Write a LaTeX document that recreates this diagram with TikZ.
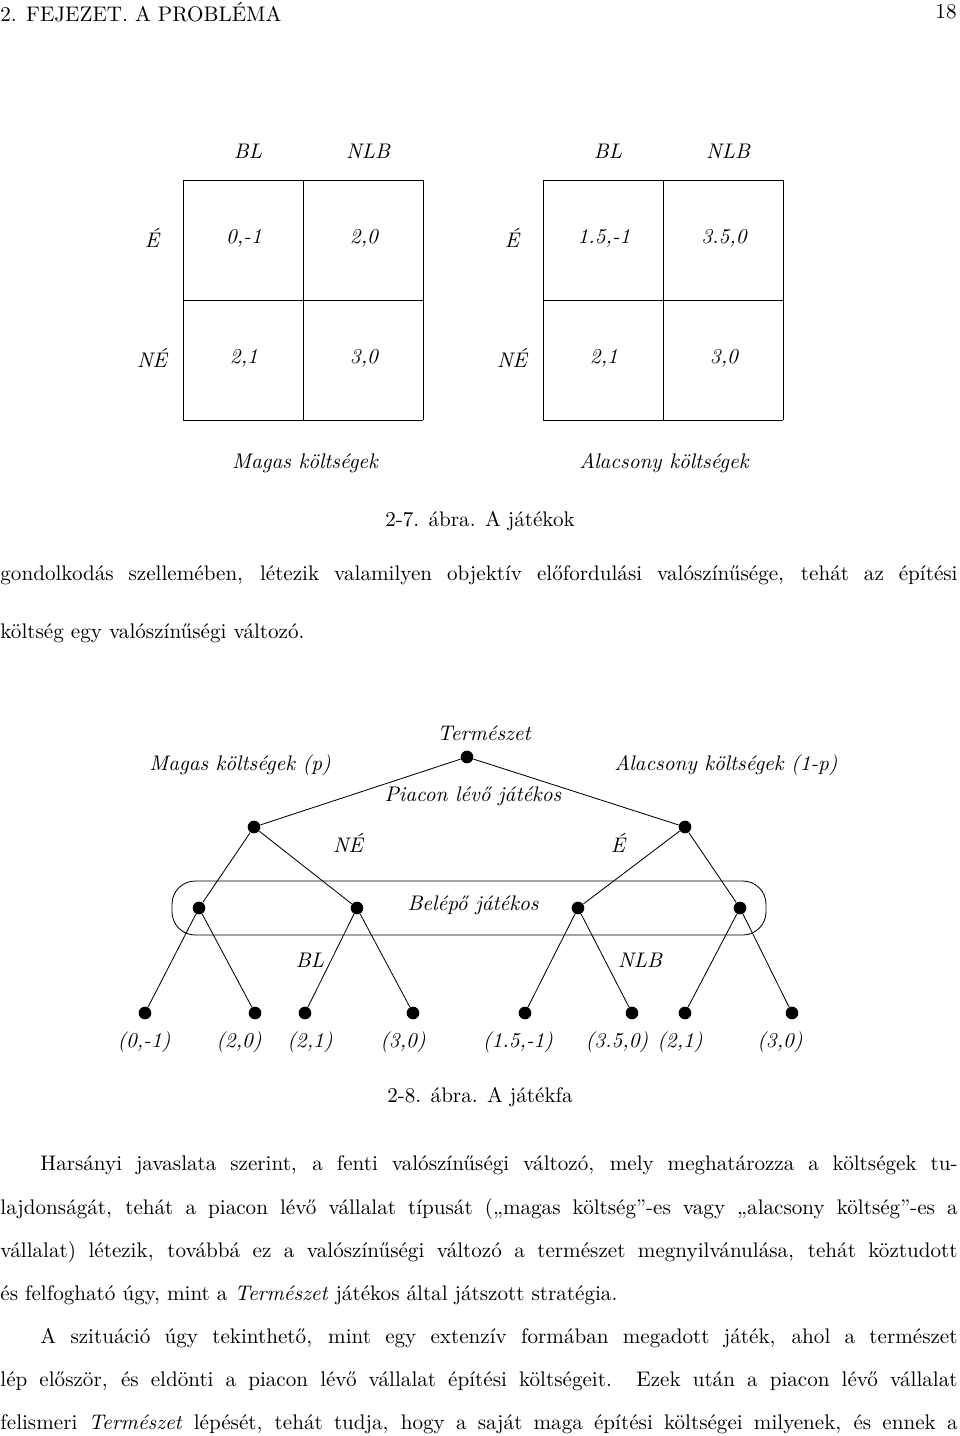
\documentclass[tikz,border=0pt]{standalone}
\usepackage{fontspec}
\usetikzlibrary{positioning}
\begin{document}
\begin{tikzpicture}[x=0.01665cm,y=-0.01665cm,thin]
\tikzset{dot/.style={circle,fill=black,inner sep=0pt,minimum size=6pt},
         lab/.style={font=\itshape,inner sep=0pt},
         txt/.style={anchor=west,inner sep=0pt}}
\useasboundingbox (0,0) rectangle (960,1436);
\newcommand{\fullline}[3]{\node[txt] at (#1,#2) {\makebox[15.934cm][s]{#3}};}
\newcommand{\indline}[2]{\node[txt] at (40,#1) {\makebox[15.268cm][s]{#2}};}
\node[txt] (head) at (0,12) {2. FEJEZET. A PROBLÉMA};
\node[anchor=east,inner sep=0pt] (page) at (957,12) {18};
% matrices
\foreach \ox/\a/\b in {0/{0,-1}/{2,0},360/{1.5,-1}/{3.5,0}}{
  \foreach \k in {0,120,240}{
    \draw (183+\ox+\k,180) -- (183+\ox+\k,420);
    \draw (183+\ox,180+\k) -- (423+\ox,180+\k);
  }
  \node[lab] at (248+\ox,151) {BL};
  \node[lab] at (368+\ox,151) {NLB};
  \node[lab] at (152+\ox,238) {É};
  \node[lab] at (152+\ox,358) {NÉ};
  \node[lab] at (244+\ox,238) {\a};
  \node[lab] at (364+\ox,238) {\b};
  \node[lab] at (244+\ox,358) {2,1};
  \node[lab] at (364+\ox,358) {3,0};
}
\node[lab] (mk) at (305,463) {Magas költségek};
\node[lab] (ak) at (664,463) {Alacsony költségek};
\node[inner sep=0pt] (cap1) at (480,521) {2-7. ábra. A játékok};
\fullline{0}{575}{gondolkodás szellemében, létezik valamilyen objektív előfordulási valószínűsége, tehát az építési}
\node[txt] at (0,633) {költség egy valószínűségi változó.};
% game tree
\node[dot] (n) at (467,757) {};
\node[dot] (h) at (254,827) {};
\node[dot] (l) at (685,827) {};
\node[dot] (h1) at (199,908) {};
\node[dot] (h2) at (357,908) {};
\node[dot] (l1) at (578,908) {};
\node[dot] (l2) at (740,908) {};
\draw[rounded corners=11pt] (172,881) rectangle (766,935);
\foreach \i/\x/\p in {1/145/h1,2/255/h1,3/305/h2,4/413/h2,5/525/l1,6/632/l1,7/685/l2,8/792/l2}{
  \node[dot] (t\i) at (\x,1013) {};
  \draw (\p) -- (t\i);
}
\draw (n) -- (h) (n) -- (l) (h) -- (h1) (h) -- (h2) (l) -- (l1) (l) -- (l2);
\node[lab] at (484,733) {Természet};
\node[lab] at (240,765) {Magas költségek (p)};
\node[lab] at (726,765) {Alacsony költségek (1-p)};
\node[lab] at (473,796) {Piacon lévő játékos};
\node[lab] at (348,843) {NÉ};
\node[lab] at (618,843) {É};
\node[lab] at (473,905) {Belépő játékos};
\node[lab] at (310,960) {BL};
\node[lab] at (640,960) {NLB};
\foreach \x/\v in {144/{(0,-1)},239/{(2,0)},310/{(2,1)},403/{(3,0)},518/{(1.5,-1)},617/{(3.5,0)},680/{(2,1)},780/{(3,0)}}
  \node[lab] at (\x,1042) {\v};
\node[inner sep=0pt] (cap2) at (480,1097) {2-8. ábra. A játékfa};
% text
\indline{1165}{Harsányi javaslata szerint, a fenti valószínűségi változó, mely meghatározza a költségek tu-}
\fullline{0}{1209}{lajdonságát, tehát a piacon lévő vállalat típusát („magas költség''-es vagy „alacsony költség''-es a}
\fullline{0}{1252}{vállalat) létezik, továbbá ez a valószínűségi változó a természet megnyilvánulása, tehát köztudott}
\node[txt] at (0,1295) {és felfogható úgy, mint a \textit{Természet} játékos által játszott stratégia.};
\indline{1338}{A szituáció úgy tekinthető, mint egy extenzív formában megadott játék, ahol a természet}
\fullline{0}{1381}{lép először, és eldönti a piacon lévő vállalat építési költségeit. Ezek után a piacon lévő vállalat}
\fullline{0}{1424}{felismeri \textit{Természet} lépését, tehát tudja, hogy a saját maga építési költségei milyenek, és ennek a}
\end{tikzpicture}
\end{document}
